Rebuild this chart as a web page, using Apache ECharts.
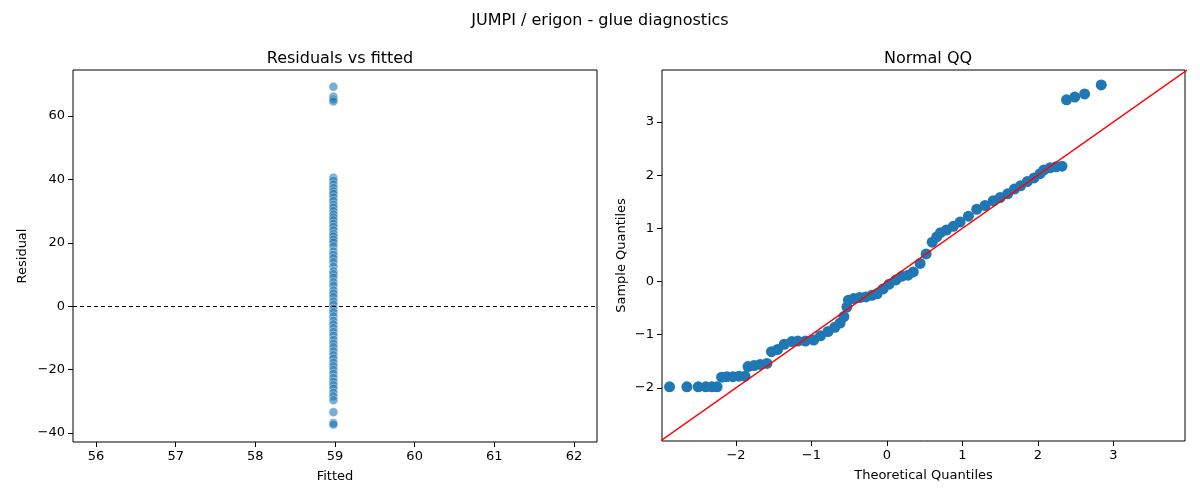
<!DOCTYPE html>
<html>
<head>
<meta charset="utf-8">
<script src="https://cdn.jsdelivr.net/npm/echarts@6/dist/echarts.min.js"></script>
<style>html,body{margin:0;padding:0;background:#fff}#chart{width:1200px;height:500px}</style>
</head>
<body>
<div id="chart"></div>
<script>
// residuals vs fitted (all fitted values the same)
var fittedValue = 58.98;
var residuals = [69.2, 66.1, 65.3, 64.6, 40.5, 39.6, 38.4, 37.3, 36.2, 35.4, 34.3, 33.2, 32.0, 31.1,
    30.0, 28.9, 28.0, 27.1, 26.0, 25.0, 23.9, 22.8, 22.0, 21.0, 20.1, 18.9, 17.3, 16.2, 15.1, 13.9,
    12.5, 11.0, 10.1, 9.0, 7.6, 6.5, 5.0, 4.0, 2.9, 1.5, 0.5, -0.8, -1.9, -3.2, -4.6, -5.7, -6.9,
    -8.1, -9.3, -10.6, -11.8, -12.9, -14.2, -15.4, -16.5, -17.8, -18.9, -20.1, -21.3, -22.6, -23.8,
    -24.9, -26.0, -27.3, -28.4, -29.6, -33.4, -36.8, -37.3];
var fittedTicks = [56, 57, 58, 59, 60, 61, 62];
var residualTicks = [-40, -20, 0, 20, 40, 60];

// normal QQ
var qqTheoretical = [-2.88, -2.65, -2.50, -2.40, -2.32, -2.25, -2.19, -2.12, -2.04, -1.96, -1.88,
    -1.84, -1.76, -1.68, -1.59, -1.53, -1.45, -1.36, -1.26, -1.18, -1.08, -0.97, -0.88, -0.78,
    -0.69, -0.62, -0.57, -0.53, -0.51, -0.44, -0.36, -0.28, -0.20, -0.13, -0.05, 0.03, 0.12, 0.20,
    0.28, 0.35, 0.44, 0.52, 0.60, 0.66, 0.71, 0.79, 0.88, 0.97, 1.08, 1.19, 1.30, 1.41, 1.50, 1.60,
    1.69, 1.77, 1.86, 1.95, 2.03, 2.08, 2.16, 2.24, 2.32, 2.38, 2.49, 2.62, 2.84];
var qqSample = [-1.98, -1.98, -1.98, -1.98, -1.98, -1.98, -1.80, -1.79, -1.79, -1.78, -1.78,
    -1.60, -1.58, -1.56, -1.54, -1.32, -1.28, -1.18, -1.13, -1.12, -1.12, -1.10, -1.02, -0.94,
    -0.86, -0.78, -0.66, -0.48, -0.35, -0.32, -0.30, -0.29, -0.26, -0.23, -0.14, -0.05, 0.03, 0.10,
    0.12, 0.18, 0.34, 0.52, 0.74, 0.84, 0.92, 0.97, 1.04, 1.12, 1.23, 1.36, 1.43, 1.52, 1.58, 1.65,
    1.74, 1.80, 1.88, 1.95, 2.03, 2.10, 2.14, 2.16, 2.17, 3.42, 3.47, 3.53, 3.70];
var theoreticalTicks = [-2, -1, 0, 1, 2, 3];
var sampleTicks = [-2, -1, 0, 1, 2, 3];

var residualPoints = residuals.map(function (r) { return [fittedValue, r]; });
var qqPoints = qqTheoretical.map(function (t, i) { return [t, qqSample[i]]; });

var font = 'DejaVu Sans';
function minus(v) { return String(v).replace('-', '\u2212'); }
function makeAxis(gridIndex, min, max, ticks, name, nameGap) {
    return {
        gridIndex: gridIndex, type: 'value', min: min, max: max,
        name: name, nameGap: nameGap, nameLocation: 'middle',
        nameTextStyle: { color: '#000', fontFamily: font, fontSize: 13 },
        axisLine: { show: false, onZero: false },
        axisTick: { show: true, length: 5, customValues: ticks, lineStyle: { color: '#000' } },
        axisLabel: { color: '#000', fontFamily: font, fontSize: 13, customValues: ticks, formatter: minus },
        splitLine: { show: false }
    };
}

var chart = echarts.init(document.getElementById('chart'));
chart.setOption({
    animation: false,
    title: [
        { text: 'JUMPI / erigon - glue diagnostics', left: 'center', top: 8,
          textStyle: { fontFamily: font, fontSize: 16, fontWeight: 'normal', color: '#000' } },
        { text: 'Residuals vs fitted', left: 335, top: 46, textAlign: 'center',
          textStyle: { fontFamily: font, fontSize: 16, fontWeight: 'normal', color: '#000' } },
        { text: 'Normal QQ', left: 923, top: 46, textAlign: 'center',
          textStyle: { fontFamily: font, fontSize: 16, fontWeight: 'normal', color: '#000' } }
    ],
    grid: [
        { left: 73, top: 70, width: 524, height: 372, show: true, borderColor: '#000', borderWidth: 1 },
        { left: 662, top: 70, width: 523, height: 371, show: true, borderColor: '#000', borderWidth: 1 }
    ],
    xAxis: [
        makeAxis(0, 55.71, 62.29, fittedTicks, 'Fitted', 28),
        makeAxis(1, -2.98, 3.95, theoreticalTicks, 'Theoretical Quantiles', 28)
    ],
    yAxis: [
        makeAxis(0, -42.8, 74.5, residualTicks, 'Residual', 44),
        makeAxis(1, -3.0, 3.98, sampleTicks, 'Sample Quantiles', 34)
    ],
    series: [
        {
            type: 'scatter', xAxisIndex: 0, yAxisIndex: 0, data: residualPoints, symbolSize: 9,
            itemStyle: { color: 'rgba(31,119,180,0.75)', borderColor: '#fff', borderWidth: 0.5 },
            markLine: {
                silent: true, symbol: 'none', label: { show: false },
                lineStyle: { color: '#000', type: [4, 3], width: 1 },
                data: [{ yAxis: 0 }]
            }
        },
        {
            type: 'line', xAxisIndex: 1, yAxisIndex: 1, data: [[-3.2, -3.2], [4.2, 4.2]],
            showSymbol: false, clip: true, lineStyle: { color: '#ff0000', width: 1.5 }, z: 3
        },
        {
            type: 'scatter', xAxisIndex: 1, yAxisIndex: 1, data: qqPoints, symbolSize: 11,
            itemStyle: { color: '#1f77b4', opacity: 1 }, z: 2
        }
    ]
});
</script>
</body>
</html>
